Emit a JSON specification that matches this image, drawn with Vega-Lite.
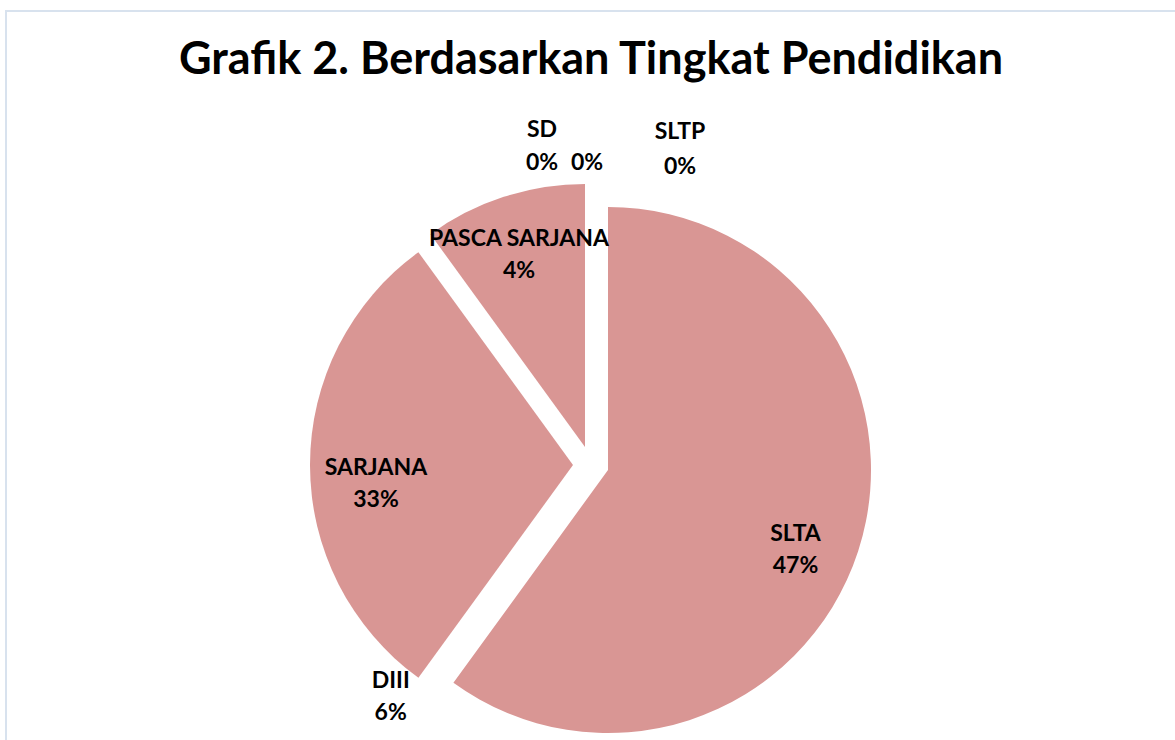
{
  "$schema": "https://vega.github.io/schema/vega-lite/v6.json",
  "autosize": {"type": "none"},
  "width": 1170,
  "height": 730,
  "padding": {"left": 6, "top": 11, "right": -1, "bottom": -1},
  "background": "white",
  "view": {"stroke": "#d8e2ee", "strokeWidth": 2},
  "config": {"view": {"stroke": "#d8e2ee", "strokeWidth": 2}},
  "title": {
    "text": "Grafik 2. Berdasarkan Tingkat Pendidikan",
    "font": "Lato",
    "fontSize": 45,
    "fontWeight": "bold",
    "color": "#000000",
    "anchor": "middle",
    "frame": "group",
    "orient": "top",
    "offset": 0,
    "baseline": "alphabetic",
    "dy": 108
  },
  "data": {
    "values": [
      {"category": "SLTP", "value": 0, "label": "SLTP\n0%"},
      {"category": "SLTA", "value": 60, "label": "SLTA\n47%"},
      {"category": "DIII", "value": 0, "label": "DIII\n6%"},
      {"category": "SARJANA", "value": 30, "label": "SARJANA\n33%"},
      {"category": "PASCA SARJANA", "value": 10, "label": "PASCA SARJANA\n4%"},
      {"category": "SD", "value": 0, "label": "SD\n0%"},
      {"category": "", "value": 0, "label": "\n0%"}
    ]
  },
  "transform": [{"stack": "value", "groupby": [], "as": ["v0", "v1"]}],
  "layer": [
    {
      "transform": [{"filter": "datum.category === 'SLTA'"}],
      "mark": {"type": "arc", "radius": 263, "color": "#d99694", "xOffset": 17, "yOffset": 94},
      "encoding": {
        "theta": {"field": "v0", "type": "quantitative", "scale": {"domain": [0, 100]}},
        "theta2": {"field": "v1"}
      }
    },
    {
      "transform": [{"filter": "datum.category === 'SARJANA'"}],
      "mark": {"type": "arc", "radius": 263, "color": "#d99694", "xOffset": -18, "yOffset": 89},
      "encoding": {
        "theta": {"field": "v0", "type": "quantitative", "scale": {"domain": [0, 100]}},
        "theta2": {"field": "v1"}
      }
    },
    {
      "transform": [{"filter": "datum.category === 'PASCA SARJANA'"}],
      "mark": {"type": "arc", "radius": 263, "color": "#d99694", "xOffset": -6, "yOffset": 71},
      "encoding": {
        "theta": {"field": "v0", "type": "quantitative", "scale": {"domain": [0, 100]}},
        "theta2": {"field": "v1"}
      }
    },
    {
      "transform": [{"filter": "datum.value > 0"}],
      "mark": {"type": "text", "radius": 215, "font": "Lato", "fontSize": 23, "fontWeight": "bold", "color": "#000000", "lineBreak": "\n", "lineHeight": 32, "align": "center", "baseline": "middle", "xOffset": 0, "yOffset": 92},
      "encoding": {
        "theta": {"field": "value", "type": "quantitative", "stack": true, "scale": {"domain": [0, 100]}},
        "order": {"field": "v0", "type": "quantitative"},
        "text": {"condition": {"test": "datum.category === 'PASCA SARJANA'", "value": ""}, "field": "label"}
      }
    },
    {
      "transform": [{"filter": "datum.value > 0"}],
      "mark": {"type": "text", "radius": 220, "font": "Lato", "fontSize": 23, "fontWeight": "bold", "color": "#000000", "lineBreak": "\n", "lineHeight": 32, "align": "center", "baseline": "middle", "xOffset": -4, "yOffset": 72},
      "encoding": {
        "theta": {"field": "value", "type": "quantitative", "stack": true, "scale": {"domain": [0, 100]}},
        "order": {"field": "v0", "type": "quantitative"},
        "text": {"condition": {"test": "datum.category !== 'PASCA SARJANA'", "value": ""}, "field": "label"}
      }
    },
    {
      "transform": [{"filter": "datum.category === 'SLTP'"}],
      "mark": {"type": "text", "radius": 316, "font": "Lato", "fontSize": 23, "fontWeight": "bold", "color": "#000000", "lineBreak": "\n", "lineHeight": 35, "align": "center", "baseline": "middle", "xOffset": 89, "yOffset": 72},
      "encoding": {
        "theta": {"field": "v0", "type": "quantitative", "scale": {"domain": [0, 100]}},
        "text": {"field": "label"}
      }
    },
    {
      "transform": [{"filter": "datum.category === 'SD'"}],
      "mark": {"type": "text", "radius": 318, "font": "Lato", "fontSize": 23, "fontWeight": "bold", "color": "#000000", "lineBreak": "\n", "lineHeight": 33, "align": "center", "baseline": "middle", "xOffset": -49, "yOffset": 72},
      "encoding": {
        "theta": {"field": "v0", "type": "quantitative", "scale": {"domain": [0, 100]}},
        "text": {"field": "label"}
      }
    },
    {
      "transform": [{"filter": "datum.category === ''"}],
      "mark": {"type": "text", "radius": 318, "font": "Lato", "fontSize": 23, "fontWeight": "bold", "color": "#000000", "lineBreak": "\n", "lineHeight": 33, "align": "center", "baseline": "middle", "xOffset": -4, "yOffset": 72},
      "encoding": {
        "theta": {"field": "v0", "type": "quantitative", "scale": {"domain": [0, 100]}},
        "text": {"field": "label"}
      }
    },
    {
      "transform": [{"filter": "datum.category === 'DIII'"}],
      "mark": {"type": "text", "radius": 288, "font": "Lato", "fontSize": 23, "fontWeight": "bold", "color": "#000000", "lineBreak": "\n", "lineHeight": 32, "align": "center", "baseline": "middle", "xOffset": -31, "yOffset": 72},
      "encoding": {
        "theta": {"field": "v0", "type": "quantitative", "scale": {"domain": [0, 100]}},
        "text": {"field": "label"}
      }
    }
  ]
}
